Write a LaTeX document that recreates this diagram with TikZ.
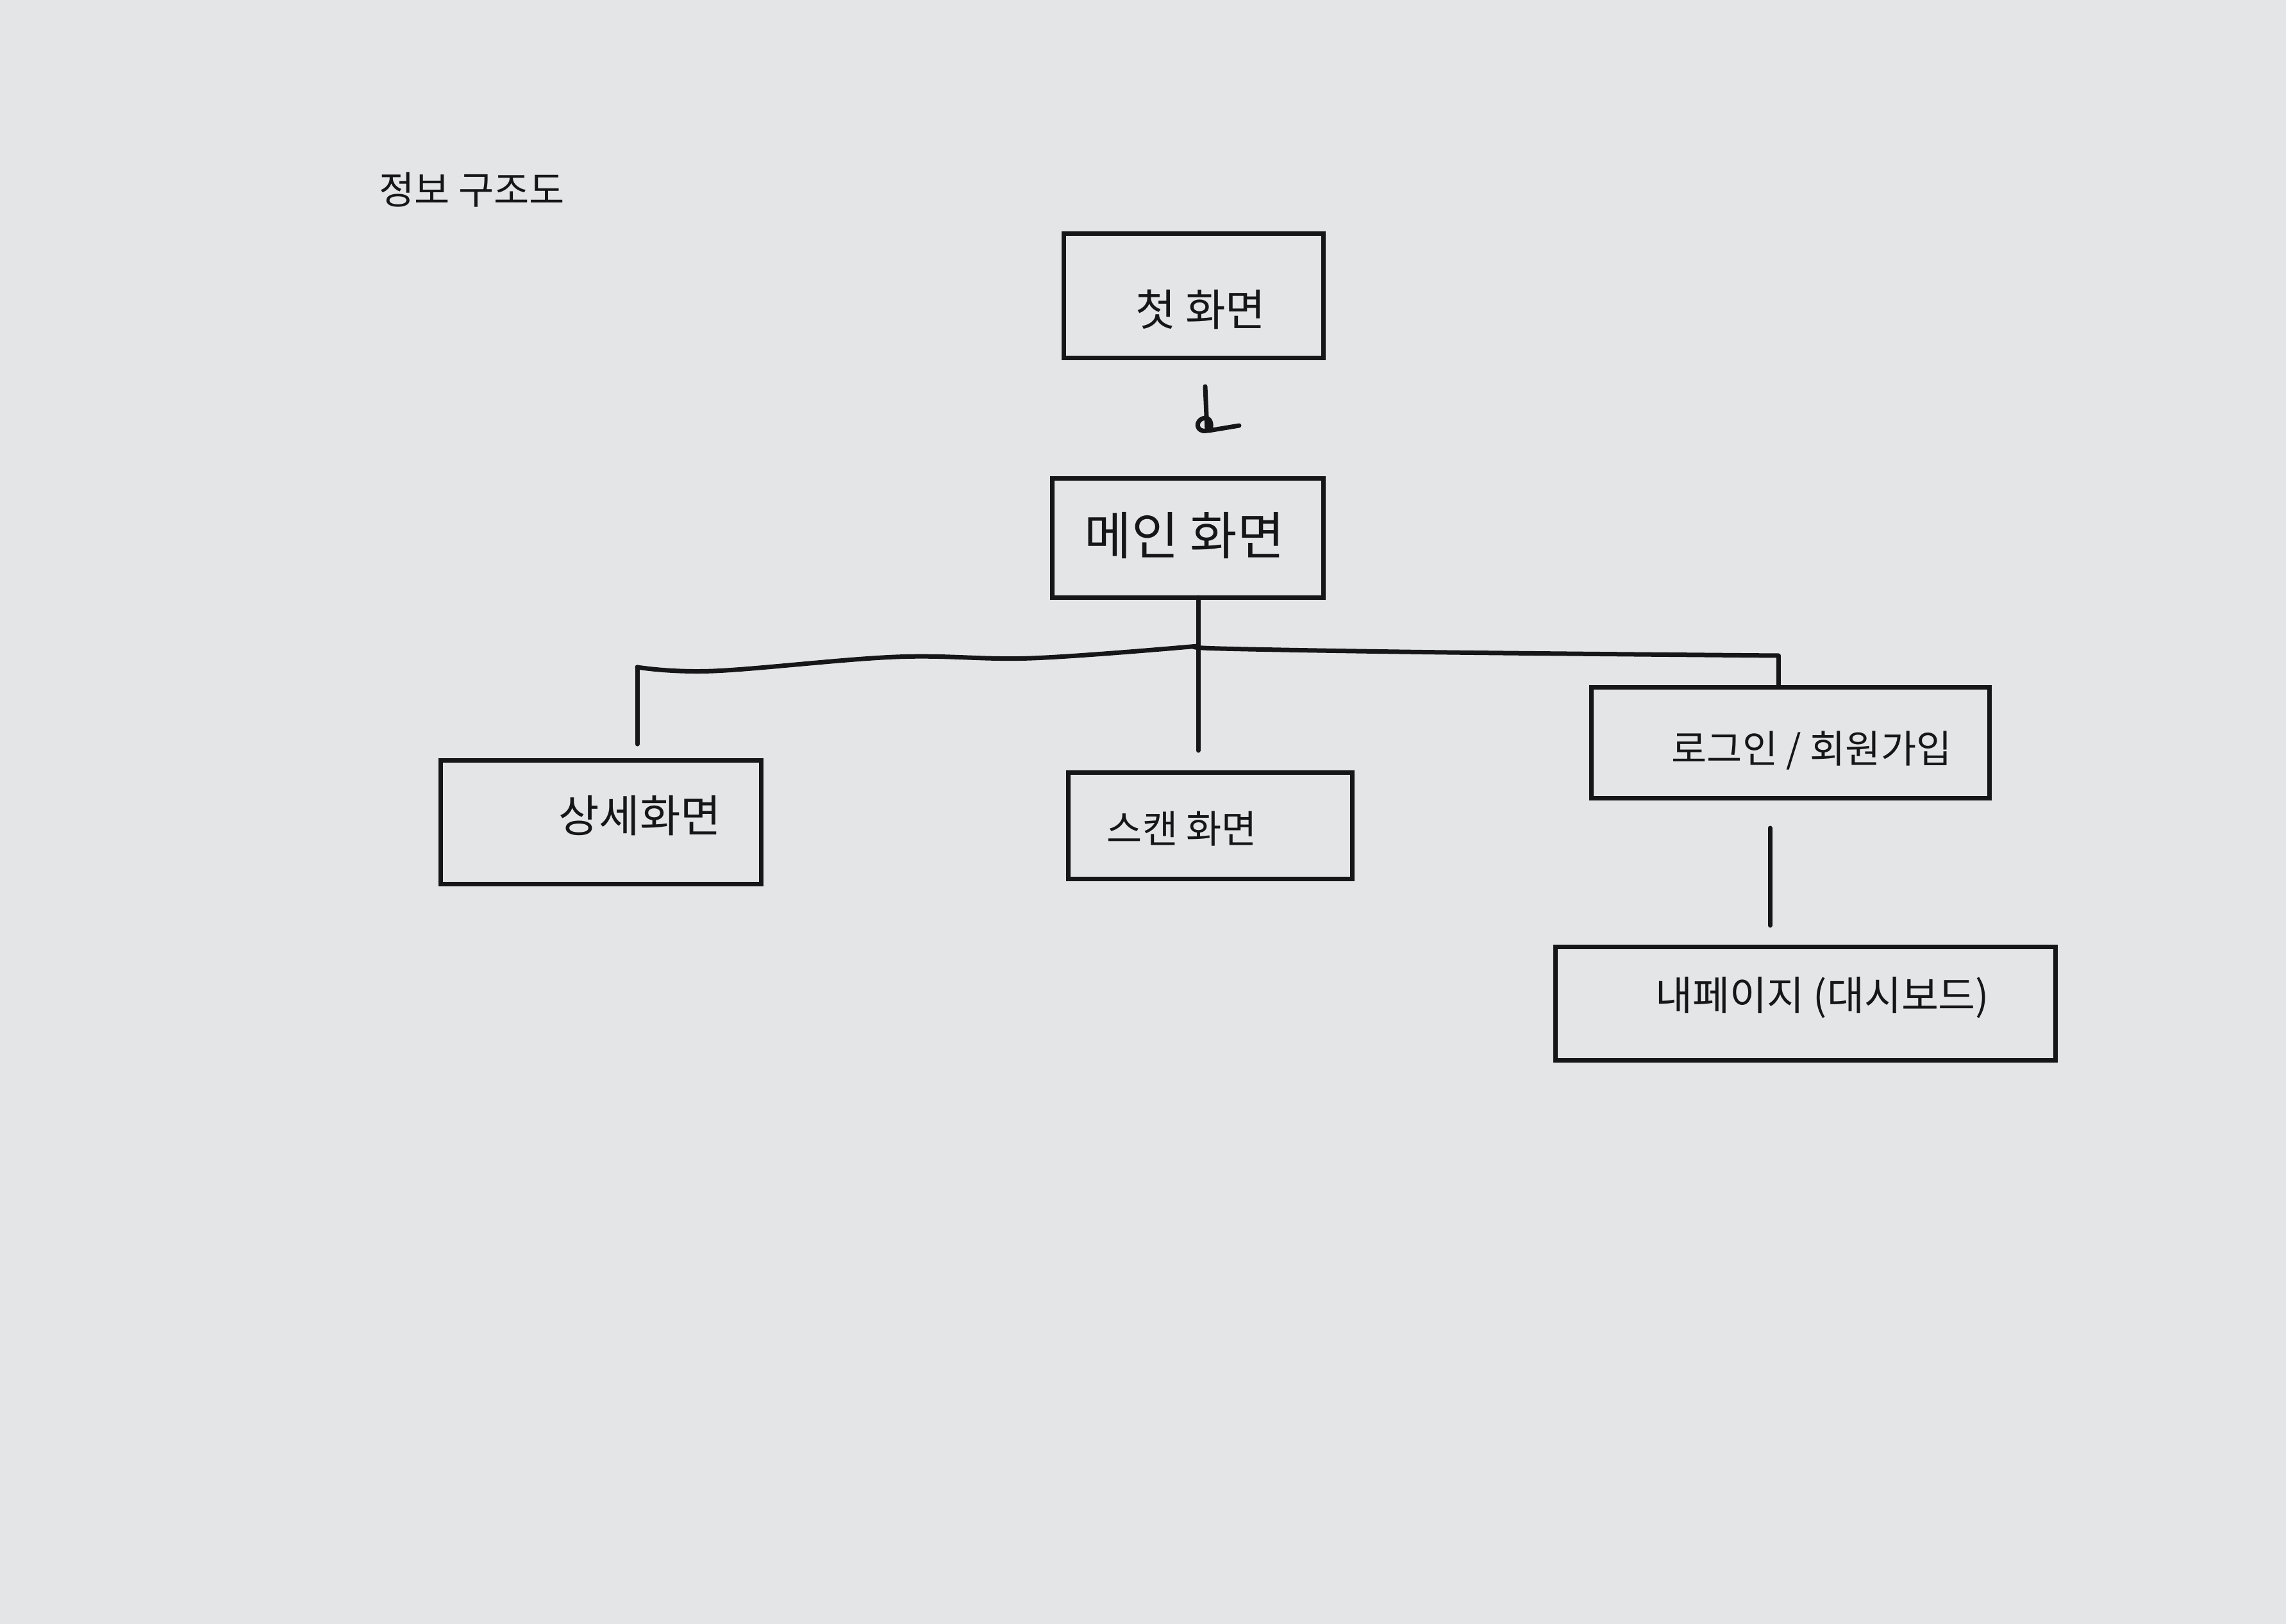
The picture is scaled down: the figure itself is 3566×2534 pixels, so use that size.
\documentclass[tikz,border=0pt]{standalone}
\usepackage{fontspec}
\newfontfamily\krfont{Noto Sans CJK KR}
\definecolor{paper}{RGB}{228,229,231}
\definecolor{ink}{RGB}{22,22,24}
\begin{document}
\begin{tikzpicture}[x=1pt,y=-1pt,
  box/.style={draw=ink, line width=7pt, rectangle, inner sep=0pt, outer sep=0pt},
  lbl/.style={text=ink, inner sep=0pt, font=\krfont\fontsize{60}{66}\selectfont},
  lblsize/.style={font=\krfont\fontsize{#1}{#1}\selectfont},
  wire/.style={draw=ink, line width=7pt, line cap=round, line join=round}]
\fill[paper] (0,0) rectangle (3566,2534);
\useasboundingbox (0,0) rectangle (3566,2534);
% title
\node[lbl] (title) at (736,296) {정보 구조도};
% boxes
\node[box, minimum width=405pt, minimum height=194pt] (first) at (1862,461) {};
\node[lbl, lblsize=68] (firstt) at (1873,483) {첫 화면};
\node[box, minimum width=423pt, minimum height=186pt] (main) at (1853,839) {};
\node[lbl, lblsize=80] (maint) at (1848,836) {메인 화면};
\node[box, minimum width=500pt, minimum height=193pt] (detail) at (937,1283) {};
\node[lbl, lblsize=69] (detailt) at (998,1273) {상세화면};
\node[box, minimum width=443pt, minimum height=166pt] (scan) at (1888,1288) {};
\node[lbl] (scant) at (1844,1293) {스캔 화면};
\node[box, minimum width=621pt, minimum height=173pt] (login) at (2793,1159) {};
\node[lbl] (logint) at (2826,1171) {로그인 / 회원가입};
\node[box, minimum width=780pt, minimum height=177pt] (mypage) at (2816,1566) {};
\node[lbl, lblsize=63] (mypaget) at (2843,1557) {내페이지 (대시보드)};
% connectors
\coordinate (sq) at (1880,603);
\draw[wire] (sq) -- (1883,672) .. controls (1866,676) and (1862,655) .. (1880,652) .. controls (1890,652) and (1892,668) .. (1885,672) -- (1933,664);
\coordinate (hub) at (1869,1008);
\coordinate (bl) at (994,1041);
\coordinate (br) at (2774,1023);
\draw[wire] (hub |- main.south) -- (hub) -- ++(0,163);
\draw[wire] plot[smooth, tension=0.6] coordinates {(bl) (1113,1047) (1397,1025) (1609,1027) (hub)};
\draw[wire] plot[smooth, tension=0.6] coordinates {(hub) (1904,1012) (2258,1018) (br)};
\draw[wire] (bl) -- ++(0,120);
\draw[wire] (br) -- ++(0,46);
\coordinate (lg) at (2761,1292);
\draw[wire] (lg) -- ++(0,152);
\end{tikzpicture}
\end{document}
